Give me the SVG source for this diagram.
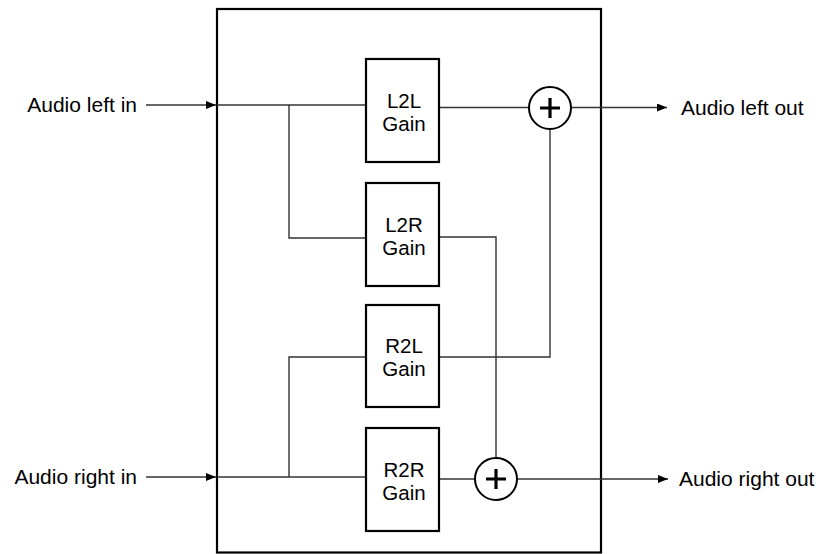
<svg xmlns="http://www.w3.org/2000/svg" width="819" height="554" viewBox="0 0 819 554">
<style>
text{font-family:"Liberation Sans",Arial,sans-serif;font-size:20.5px;fill:#000}
.lbl{font-size:21px}
.box{fill:#fff;stroke:#000;stroke-width:2.2}
.wire{fill:none;stroke:#333;stroke-width:1.4}
.sum{fill:#fff;stroke:#000;stroke-width:2}
.plus{stroke:#000;stroke-width:3.2}
.mid{text-anchor:middle}
</style>
<defs>
<marker id="arr" markerWidth="10" markerHeight="8" refX="10" refY="4" orient="auto" markerUnits="userSpaceOnUse">
<path d="M0,0 L10,4 L0,8 Z" fill="#000"/>
</marker>
</defs>
<rect id="frame" x="217" y="9" width="384" height="543.5" fill="none" stroke="#000" stroke-width="2.2"/>
<g id="connectors">
<path class="wire" d="M146,105 H216" marker-end="url(#arr)"/>
<path class="wire" d="M146,477 H216" marker-end="url(#arr)"/>
<path class="wire" d="M217,105 H366"/>
<path class="wire" d="M289,105 V238 H366"/>
<path class="wire" d="M217,477 H366"/>
<path class="wire" d="M289,477 V357 H366"/>
<path class="wire" d="M439,107.5 H529"/>
<path class="wire" d="M439,357 H550 V129"/>
<path class="wire" d="M439,237 H496 V458"/>
<path class="wire" d="M439,479 H475"/>
<path class="wire" d="M571,107.5 H667" marker-end="url(#arr)"/>
<path class="wire" d="M517,479 H668" marker-end="url(#arr)"/>
</g>
<g id="in-left"><text x="137" y="112" text-anchor="end" class="lbl">Audio left in</text></g>
<g id="in-right"><text x="137" y="484" text-anchor="end" class="lbl">Audio right in</text></g>
<g id="out-left"><text x="681" y="115" class="lbl">Audio left out</text></g>
<g id="out-right"><text x="679" y="486" class="lbl">Audio right out</text></g>
<g id="L2L"><rect class="box" x="366" y="59" width="73" height="103"/><text class="mid" x="404" y="108">L2L</text><text class="mid" x="404" y="131">Gain</text></g>
<g id="L2R"><rect class="box" x="366" y="183" width="73" height="103"/><text class="mid" x="404" y="232">L2R</text><text class="mid" x="404" y="255">Gain</text></g>
<g id="R2L"><rect class="box" x="366" y="305" width="73" height="102"/><text class="mid" x="404" y="353">R2L</text><text class="mid" x="404" y="376">Gain</text></g>
<g id="R2R"><rect class="box" x="366" y="428" width="73" height="103"/><text class="mid" x="404" y="477">R2R</text><text class="mid" x="404" y="500">Gain</text></g>
<g id="sum-left"><circle class="sum" cx="550" cy="108" r="21"/><path class="plus" d="M540,108 H560 M550,98 V118"/></g>
<g id="sum-right"><circle class="sum" cx="496" cy="479" r="21"/><path class="plus" d="M486,479 H506 M496,469 V489"/></g>
</svg>
